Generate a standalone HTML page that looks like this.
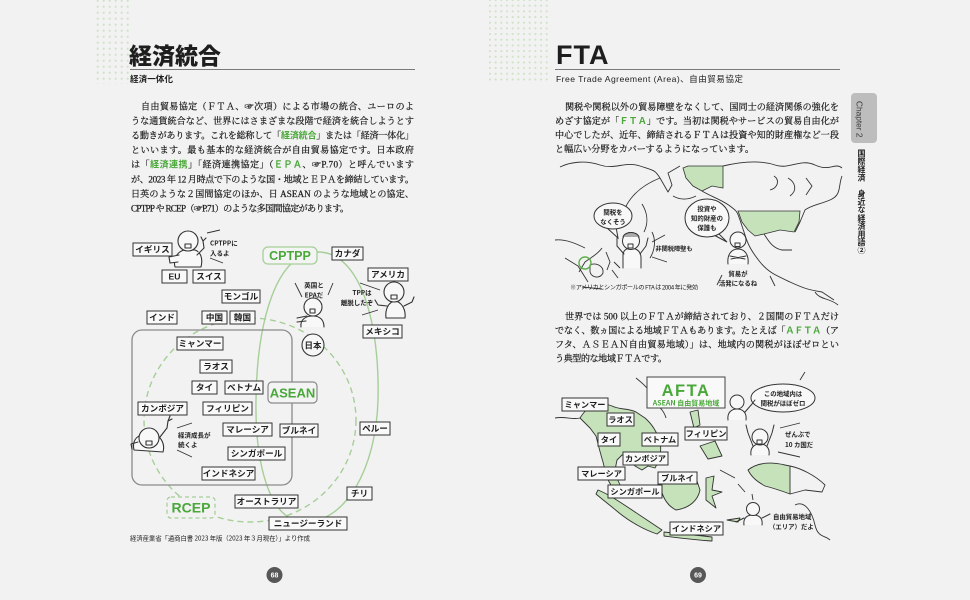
<!DOCTYPE html>
<html><head><meta charset="utf-8">
<style>
html,body{margin:0;padding:0;background:#f2f2f2;}
body{width:970px;height:600px;position:relative;overflow:hidden;}
svg{position:absolute;left:0;top:0;}
.vt{position:absolute;left:854px;top:149px;writing-mode:vertical-rl;font-family:"Noto Sans CJK JP",sans-serif;font-weight:700;font-size:8px;color:#222;line-height:14px;letter-spacing:0.1px;}
</style></head><body>
<svg width="970" height="600" viewBox="0 0 970 600" font-family="'Liberation Sans','Noto Sans CJK JP',sans-serif">
<defs>
<pattern id="d1" x="94.7" y="-2.3" width="6" height="6" patternUnits="userSpaceOnUse"><circle cx="3" cy="3" r="1.1" fill="#cde2c5"/></pattern>
<pattern id="d2" x="487.2" y="-2.8" width="5.67" height="5.67" patternUnits="userSpaceOnUse"><circle cx="2.8" cy="2.8" r="1.05" fill="#cde2c5"/></pattern>
</defs>
<rect x="95" y="0" width="35" height="84" fill="url(#d1)"/>
<rect x="487" y="0" width="63" height="84" fill="url(#d2)"/>

<!-- Titles -->
<text x="129" y="64" font-family="'Noto Sans CJK JP',sans-serif" font-weight="900" font-size="23" fill="#1e1e1e">経済統合</text>
<line x1="130" y1="69.5" x2="415" y2="69.5" stroke="#7a7a7a" stroke-width="1"/>
<text x="130" y="82" font-family="'Noto Sans CJK JP',sans-serif" font-weight="700" font-size="8.6" fill="#1e1e1e">経済一体化</text>

<text x="556" y="64" font-family="'Liberation Sans',sans-serif" font-weight="700" font-size="27" letter-spacing="1" fill="#1e1e1e">FTA</text>
<line x1="555" y1="69.5" x2="840" y2="69.5" stroke="#7a7a7a" stroke-width="1"/>
<text x="556" y="82" font-size="8.6" fill="#1e1e1e" textLength="187" lengthAdjust="spacing">Free Trade Agreement (Area)、自由貿易協定</text>

<!-- Left body text -->
<g font-family="'Liberation Serif','Noto Serif CJK SC',serif" font-size="9.1" fill="#1a1a1a" stroke="#1a1a1a" stroke-width="0.22">
<text x="141" y="109.3" textLength="273" lengthAdjust="spacing">自由貿易協定（ＦＴＡ、☞次項）による市場の統合、ユーロのよ</text>
<text x="131" y="123.9" textLength="283" lengthAdjust="spacing">うな通貨統合など、世界にはさまざまな段階で経済を統合しようとす</text>
<text x="131" y="138.5" textLength="283" lengthAdjust="spacing">る動きがあります。これを総称して「<tspan fill="#4aa83a" stroke="none" font-family="'Noto Sans CJK JP',sans-serif" font-weight="700">経済統合</tspan>」または「経済一体化」</text>
<text x="131" y="153.1" textLength="283" lengthAdjust="spacing">といいます。最も基本的な経済統合が自由貿易協定です。日本政府</text>
<text x="131" y="167.7" textLength="283" lengthAdjust="spacing">は「<tspan fill="#4aa83a" stroke="none" font-family="'Noto Sans CJK JP',sans-serif" font-weight="700">経済連携</tspan>」「経済連携協定」（<tspan fill="#4aa83a" stroke="none" font-family="'Liberation Sans',sans-serif" font-weight="700">ＥＰＡ</tspan>、☞P.70）と呼んでいます</text>
<text x="131" y="182.3" textLength="283" lengthAdjust="spacing">が、2023 年 12 月時点で下のような国・地域とＥＰＡを締結しています。</text>
<text x="131" y="196.9" textLength="283" lengthAdjust="spacing">日英のような２国間協定のほか、日 ASEAN のような地域との協定、</text>
<text x="131" y="211.5" textLength="218" lengthAdjust="spacing">CPTPP や RCEP（☞P.71）のような多国間協定があります。</text>
</g>

<!-- Right body text -->
<g font-family="'Liberation Serif','Noto Serif CJK SC',serif" font-size="9.1" fill="#1a1a1a" stroke="#1a1a1a" stroke-width="0.22">
<text x="565" y="109.8" textLength="274" lengthAdjust="spacing">関税や関税以外の貿易障壁をなくして、国同士の経済関係の強化を</text>
<text x="555" y="123.8" textLength="284" lengthAdjust="spacing">めざす協定が「<tspan fill="#4aa83a" stroke="none" font-family="'Noto Sans CJK JP',sans-serif" font-weight="700">ＦＴＡ</tspan>」です。当初は関税やサービスの貿易自由化が</text>
<text x="555" y="137.8" textLength="284" lengthAdjust="spacing">中心でしたが、近年、締結されるＦＴＡは投資や知的財産権など一段</text>
<text x="555" y="151.8" textLength="199" lengthAdjust="spacing">と幅広い分野をカバーするようになっています。</text>

<text x="565" y="319.3" textLength="274" lengthAdjust="spacing">世界では 500 以上のＦＴＡが締結されており、２国間のＦＴＡだけ</text>
<text x="555" y="333.3" textLength="284" lengthAdjust="spacing">でなく、数ヵ国による地域ＦＴＡもあります。たとえば「<tspan fill="#4aa83a" stroke="none" font-family="'Noto Sans CJK JP',sans-serif" font-weight="700">ＡＦＴＡ</tspan>（ア</text>
<text x="555" y="347.3" textLength="284" lengthAdjust="spacing">フタ、ＡＳＥＡＮ自由貿易地域）」は、地域内の関税がほぼゼロとい</text>
<text x="555" y="361.3" textLength="112" lengthAdjust="spacing">う典型的な地域ＦＴＡです。</text>
</g>

<!-- ===== Left diagram ===== -->
<ellipse cx="250" cy="420" rx="106" ry="102" fill="none" stroke="#a6cf98" stroke-width="1.4" stroke-dasharray="6 4"/>
<path d="M318,252 C360,252 380,322 378,400 C376,470 345,522 305,522 C268,522 255,460 256,400 C257,322 276,252 318,252 Z" fill="none" stroke="#a6cf98" stroke-width="1.4"/>
<rect x="132" y="330" width="160" height="155" rx="10" fill="none" stroke="#8a8a8a" stroke-width="1.3"/>

<rect x="263" y="247" width="54" height="17" rx="5" fill="#f4f4f4" stroke="#a6cf98" stroke-width="1.3"/>
<text x="290" y="260" text-anchor="middle" font-weight="700" font-size="12.5" fill="#4aa83a">CPTPP</text>
<rect x="268" y="382" width="49" height="21" rx="4" fill="#f4f4f4" stroke="#8a8a8a" stroke-width="1.2"/>
<text x="292.5" y="397.5" text-anchor="middle" font-weight="700" font-size="13" fill="#4aa83a">ASEAN</text>
<rect x="167" y="497" width="48" height="21" rx="4" fill="#f2f2f2" stroke="#a6cf98" stroke-width="1.3" stroke-dasharray="4 3"/>
<text x="191" y="512.5" text-anchor="middle" font-weight="700" font-size="14" fill="#4aa83a">RCEP</text>
<circle cx="313" cy="345" r="11" fill="#f7f7f7" stroke="#333" stroke-width="1.1"/>
<text x="313" y="348.5" text-anchor="middle" font-family="'Noto Sans CJK JP',sans-serif" font-weight="700" font-size="8.5" fill="#222">日本</text>

<g fill="#f9f9f9" stroke="#333" stroke-width="1">
<rect x="133" y="243" width="39" height="13"/>
<rect x="332" y="247" width="31" height="13"/>
<rect x="162" y="270" width="25" height="13"/>
<rect x="193" y="270" width="32" height="13"/>
<rect x="368" y="268" width="40" height="13"/>
<rect x="222" y="290" width="38" height="13"/>
<rect x="147" y="311" width="30" height="13"/>
<rect x="202" y="311" width="25" height="13"/>
<rect x="230" y="311" width="25" height="13"/>
<rect x="363" y="325" width="39" height="13"/>
<rect x="177" y="337" width="46" height="13"/>
<rect x="200" y="360" width="32" height="13"/>
<rect x="192" y="381" width="25" height="13"/>
<rect x="225" y="381" width="38" height="13"/>
<rect x="138" y="402" width="49" height="13"/>
<rect x="203" y="402" width="49" height="13"/>
<rect x="223" y="423" width="49" height="13"/>
<rect x="280" y="424" width="38" height="13"/>
<rect x="360" y="422" width="30" height="13"/>
<rect x="228" y="447" width="57" height="13"/>
<rect x="202" y="467" width="53" height="13"/>
<rect x="347" y="487" width="25" height="13"/>
<rect x="235" y="495" width="63" height="13"/>
<rect x="269" y="517" width="78" height="13"/>
</g>
<g font-family="'Noto Sans CJK JP',sans-serif" font-weight="700" font-size="8.6" fill="#1e1e1e" text-anchor="middle">
<text x="152.5" y="252.6">イギリス</text>
<text x="347.5" y="256.6">カナダ</text>
<text x="174.5" y="279.6" font-family="'Liberation Sans',sans-serif">EU</text>
<text x="209" y="279.6">スイス</text>
<text x="388" y="277.6">アメリカ</text>
<text x="241" y="299.6">モンゴル</text>
<text x="162" y="320.6">インド</text>
<text x="214.5" y="320.6">中国</text>
<text x="242.5" y="320.6">韓国</text>
<text x="382.5" y="334.6">メキシコ</text>
<text x="200" y="346.6">ミャンマー</text>
<text x="216" y="369.6">ラオス</text>
<text x="204.5" y="390.6">タイ</text>
<text x="244" y="390.6">ベトナム</text>
<text x="162.5" y="411.6">カンボジア</text>
<text x="227.5" y="411.6">フィリピン</text>
<text x="247.5" y="432.6">マレーシア</text>
<text x="299" y="433.6">ブルネイ</text>
<text x="375" y="431.6">ペルー</text>
<text x="256.5" y="456.6">シンガポール</text>
<text x="228.5" y="476.6">インドネシア</text>
<text x="359.5" y="496.6">チリ</text>
<text x="266.5" y="504.6">オーストラリア</text>
<text x="308" y="526.6">ニュージーランド</text>
</g>

<g fill="#f8f8f8" stroke="#333" stroke-width="1.1" stroke-linecap="round" stroke-linejoin="round">
<path d="M175,267 C173,259 177,252 184,250 L195,250 C201,252 203,259 201,267 Z"/>
<path d="M179,255 L169,257 L170,263 L178,262" />
<path d="M197,255 L204,248 L203,241 M203,241 L201,237 M203,241 L206,238"/>
<circle cx="188" cy="241" r="10"/>
<rect x="185" y="244" width="6" height="4" fill="none"/>
<path d="M301,327 C300,320 305,316 313,316 C320,316 324,320 324,327"/>
<path d="M297,318 L307,316 M297,322 L306,321" fill="none"/>
<circle cx="313" cy="307" r="9"/>
<rect x="310" y="309" width="5" height="4" fill="none"/>
<path d="M386,318 C385,310 388,302 395,301 C402,302 406,310 405,318 Z"/>
<path d="M387,306 L378,305 L375,300 M404,306 L412,302 L414,297" fill="none"/>
<circle cx="394" cy="292" r="10"/>
<rect x="391" y="295" width="6" height="4" fill="none"/>
<path d="M134,450 C132,442 136,436 142,435 L156,435 C162,438 165,445 163,452 Z"/>
<path d="M160,437 L167,428 L168,421 M168,421 L170,416 M168,421 L172,419" fill="none"/>
<path d="M138,442 L131,444 L132,449" fill="none"/>
<circle cx="149" cy="438" r="10"/>
<rect x="146" y="441" width="6" height="4" fill="none"/>
</g>
<g stroke="#333" stroke-width="0.9" fill="none">
<line x1="207" y1="233" x2="220" y2="230"/>
<line x1="210" y1="258" x2="223" y2="263"/>
<line x1="295" y1="283" x2="302" y2="297"/>
<line x1="333" y1="283" x2="328" y2="295"/>
<line x1="360" y1="283" x2="380" y2="290"/>
<line x1="362" y1="315" x2="378" y2="310"/>
<line x1="177" y1="428" x2="192" y2="423"/>
<line x1="177" y1="450" x2="192" y2="457"/>
</g>
<g font-family="'Noto Sans CJK JP',sans-serif" font-weight="700" font-size="6.5" fill="#222">
<text x="210" y="245.5">CPTPPに</text>
<text x="210" y="255.5">入るよ</text>
<text x="314" y="287.5" text-anchor="middle">英国と</text>
<text x="314" y="297.5" text-anchor="middle">EPAだ</text>
<text x="362" y="295" text-anchor="middle">TPPは</text>
<text x="357" y="305" text-anchor="middle">離脱したぞ</text>
<text x="178" y="437.5">経済成長が</text>
<text x="178" y="447">続くよ</text>
</g>
<text x="130" y="540.5" font-family="'Noto Sans CJK JP',sans-serif" font-size="6.4" fill="#222" textLength="180" lengthAdjust="spacing">経済産業省「通商白書 2023 年版（2023 年３月現在）」より作成</text>

<circle cx="274.5" cy="575" r="8" fill="#575757"/>
<text x="274.5" y="577.5" text-anchor="middle" font-weight="700" font-size="7" fill="#fff">68</text>
<circle cx="698" cy="575" r="8" fill="#575757"/>
<text x="698" y="577.5" text-anchor="middle" font-weight="700" font-size="7" fill="#fff">69</text>

<rect x="851" y="93" width="26" height="50" rx="4" fill="#bdbdbd"/>
<text transform="translate(856.5,101) rotate(90)" font-size="8.3" fill="#3a3a3a">Chapter 2</text>

<!-- ===== Top right map ===== -->
<g fill="none" stroke="#333" stroke-width="0.9" stroke-linejoin="round">
<path d="M560,167 C570,162 585,160 600,165 S625,161 640,166 S655,170 660,178 L668,192 L672,185 L668,173 L680,166"/>
<path d="M723,166 C740,162 760,160 775,165 S800,158 815,165 S835,162 842,168"/>
<path d="M842,176 C838,186 842,195 830,200 S812,205 805,210 L800,222 L795,232"/>
<path d="M702,191 C710,196 722,200 730,206 S737,212 740,220 L745,235 C748,245 752,252 760,262 S775,275 790,282 S810,290 822,292 L834,300"/>
<path d="M764,234 C768,240 772,248 782,250 L792,250"/>
<path d="M660,178 C650,182 640,188 633,196 S624,210 620,222"/>
<path d="M602,248 C597,255 590,258 585,262 L579,272"/>
<path d="M642,204 C647,212 649,222 644,232"/>
<path d="M555,240 C565,239 575,243 585,248"/>
<path d="M565,258 L578,266 L588,282"/>
<path d="M590,265 C596,262 604,266 603,273 C600,279 592,278 590,272 Z"/>
<path d="M606,252 L610,262 L607,270"/>
<path d="M582,287 L602,289"/>
<path d="M612,270 L618,278 M614,262 L620,268"/>
<path d="M815,292 C820,300 830,298 838,305"/>
<path d="M806,178 L812,186 L806,195 M788,178 C795,182 798,190 790,196"/>
<path d="M673,196 C680,200 688,200 696,196"/>
<path d="M652,232 C656,240 655,250 650,258"/>
<path d="M774,176 C780,180 778,188 770,190"/>
</g>
<path d="M683,168 L688,166 L723,166 L723,188 L712,186 L702,191 L693,186 L686,178 Z" fill="#c6e2bb" stroke="#333" stroke-width="0.8"/>
<path d="M738,211 L800,211 L799,222 L794,232 L780,230 L772,232 L764,234 L755,236 L748,230 L742,222 Z" fill="#c6e2bb" stroke="#333" stroke-width="0.8"/>
<circle cx="585" cy="263" r="6" fill="none" stroke="#5cb04a" stroke-width="1.4"/>

<g fill="#f8f8f8" stroke="#333" stroke-width="1">
<path d="M606,227 L618,238 L616,227 Z"/>
<ellipse cx="613" cy="216" rx="19" ry="13"/>
<path d="M712,234 L727,242 L718,233 Z"/>
<ellipse cx="707" cy="218" rx="22" ry="19"/>
</g>
<g font-family="'Noto Sans CJK JP',sans-serif" font-weight="700" font-size="6.4" fill="#222" text-anchor="middle">
<text x="613" y="214.5">関税を</text>
<text x="613" y="224">なくそう</text>
<text x="707" y="211">投資や</text>
<text x="707" y="220.5">知的財産の</text>
<text x="707" y="230">保護も</text>
<text x="674" y="251" font-size="6.2">非関税障壁も</text>
<text x="738" y="276">貿易が</text>
<text x="738" y="285.5">活発になるね</text>
</g>
<text x="570" y="289.5" font-family="'Noto Sans CJK JP',sans-serif" font-size="6.2" fill="#222" textLength="128" lengthAdjust="spacing">※アメリカとシンガポールの FTA は 2004 年に発効</text>
<g fill="#f8f8f8" stroke="#333" stroke-width="1" stroke-linecap="round" stroke-linejoin="round">
<path d="M623,268 L623,254 C624,249 628,248 632,248 C638,249 641,252 641,258 L641,268"/>
<path d="M624,254 L617,246 L617,238 M640,254 L646,246 L648,238" fill="none"/>
<circle cx="631" cy="241" r="8.5"/>
<path d="M623,237 C625,231 637,231 639,237" fill="#aaa"/>
<rect x="628" y="244" width="5" height="4" fill="none"/>
<path d="M728,264 C727,255 731,249 738,249 C745,249 749,255 748,264"/>
<path d="M730,256 L745,259 M746,256 L731,259" fill="none"/>
<circle cx="738" cy="240" r="8"/>
<rect x="735" y="243" width="5" height="3.5" fill="none"/>
</g>
<g stroke="#333" stroke-width="0.9">
<line x1="652" y1="242" x2="665" y2="235"/>
<line x1="652" y1="257" x2="667" y2="262"/>
<line x1="717" y1="285" x2="722" y2="275"/>
<line x1="770" y1="276" x2="775" y2="286"/>
</g>

<!-- ===== Bottom right map ===== -->
<g fill="#c6e2bb" stroke="#333" stroke-width="0.9" stroke-linejoin="round">
<path d="M580,418 C585,410 592,404 600,402 L612,406 C620,410 628,408 636,412 L645,418 C652,424 657,432 660,442 C662,452 660,460 655,468 L648,466 L642,470 L635,466 C630,460 626,455 622,455 L617,460 L615,470 C616,478 620,485 624,492 L620,496 C614,490 608,482 606,474 L603,462 C600,452 598,444 596,436 L590,428 Z"/>
<path d="M598,490 C608,494 620,502 632,510 S650,522 662,530 L657,534 C645,530 630,522 618,512 S603,500 596,494 Z"/>
<path d="M660,484 C670,476 684,474 696,478 L700,490 C698,500 690,508 676,510 C668,506 662,498 660,484 Z"/>
<path d="M664,532 C680,534 695,535 712,537 L712,541 C695,540 680,538 664,536 Z"/>
<path d="M706,478 L714,476 L712,490 L722,492 L712,496 L716,508 L706,500 Z"/>
<path d="M690,412 L698,410 L700,425 L694,428 Z"/>
<path d="M700,446 L715,441 L722,456 L708,459 Z"/>
<path d="M748,470 C758,462 772,462 785,465 L790,466 L790,494 C782,491 773,488 765,486 C758,482 752,478 748,470 Z"/>
<path d="M727,520 L740,518 L738,522 Z"/>
</g>
<g fill="none" stroke="#333" stroke-width="0.9" stroke-linejoin="round">
<path d="M790,466 C800,468 815,475 825,485 L822,492 L805,490 L790,494"/>
<path d="M555,418 C565,416 572,420 580,418"/>
<path d="M636,378 C646,386 652,392 652,400 C658,406 664,410 666,418"/>
<path d="M652,392 C656,394 660,388 662,380"/>
<path d="M720,470 L735,478 M738,484 L745,492"/>
<path d="M795,505 C805,500 812,512 815,525 S825,535 830,540"/>
<path d="M800,380 L805,372"/>
</g>
<rect x="647" y="377" width="78" height="31" fill="#f9f9f9" stroke="#444" stroke-width="1"/>
<text x="686" y="396" text-anchor="middle" font-weight="700" font-size="16.5" letter-spacing="1.5" fill="#4aa83a">AFTA</text>
<text x="686" y="405.5" text-anchor="middle" font-family="'Noto Sans CJK JP',sans-serif" font-weight="700" font-size="7" fill="#4aa83a">ASEAN 自由貿易地域</text>

<g fill="#f9f9f9" stroke="#333" stroke-width="1">
<rect x="562" y="398" width="46" height="13"/>
<rect x="607" y="413" width="27" height="13"/>
<rect x="598" y="433" width="22" height="13"/>
<rect x="642" y="433" width="36" height="13"/>
<rect x="685" y="427" width="42" height="13"/>
<rect x="623" y="452" width="45" height="13"/>
<rect x="578" y="467" width="47" height="13"/>
<rect x="658" y="472" width="39" height="12"/>
<rect x="608" y="485" width="54" height="13"/>
<rect x="670" y="522" width="53" height="13"/>
</g>
<g font-family="'Noto Sans CJK JP',sans-serif" font-weight="700" font-size="8.2" fill="#1e1e1e" text-anchor="middle">
<text x="585" y="407.5">ミャンマー</text>
<text x="620.5" y="422.5">ラオス</text>
<text x="609" y="442.5">タイ</text>
<text x="660" y="442.5">ベトナム</text>
<text x="706" y="436.5">フィリピン</text>
<text x="645.5" y="461.5">カンボジア</text>
<text x="601.5" y="476.5">マレーシア</text>
<text x="677.5" y="481">ブルネイ</text>
<text x="635" y="494.5">シンガポール</text>
<text x="696.5" y="531.5">インドネシア</text>
</g>
<g fill="#f8f8f8" stroke="#333" stroke-width="1" stroke-linecap="round" stroke-linejoin="round">
<path d="M756,402 L766,399 L752,396 Z"/>
<ellipse cx="783" cy="398" rx="32" ry="14"/>
<path d="M728,420 C727,413 731,409 737,409 C743,409 747,413 746,420"/>
<path d="M745,412 L752,404 L755,400" fill="none"/>
<circle cx="737" cy="402" r="7"/>
<path d="M751,455 C750,448 754,444 760,444 C766,444 770,448 769,455"/>
<path d="M753,446 L748,433 L746,425 M767,446 L772,433 L774,425" fill="none"/>
<circle cx="760" cy="437" r="8"/>
<rect x="757" y="440" width="5" height="4" fill="none"/>
<path d="M744,525 C743,518 747,515 753,515 C759,515 763,518 762,525"/>
<path d="M744,518 L736,522 M762,518 L770,514" fill="none"/>
<circle cx="753" cy="509" r="6.5"/>
</g>
<g stroke="#333" stroke-width="0.9">
<line x1="780" y1="428" x2="800" y2="423"/>
<line x1="778" y1="452" x2="800" y2="457"/>
<line x1="753" y1="500" x2="752" y2="494"/>
</g>
<g font-family="'Noto Sans CJK JP',sans-serif" font-weight="700" font-size="6.4" fill="#222">
<text x="783" y="396" text-anchor="middle">この地域内は</text>
<text x="783" y="405.5" text-anchor="middle">関税がほぼゼロ</text>
<text x="785" y="436.5">ぜんぶで</text>
<text x="785" y="447">10 カ国だ</text>
<text x="773" y="519">自由貿易地域</text>
<text x="769" y="529">（エリア）だよ</text>
</g>
</svg>
<div class="vt">国際経済　身近な経済用語②</div>
</body></html>
